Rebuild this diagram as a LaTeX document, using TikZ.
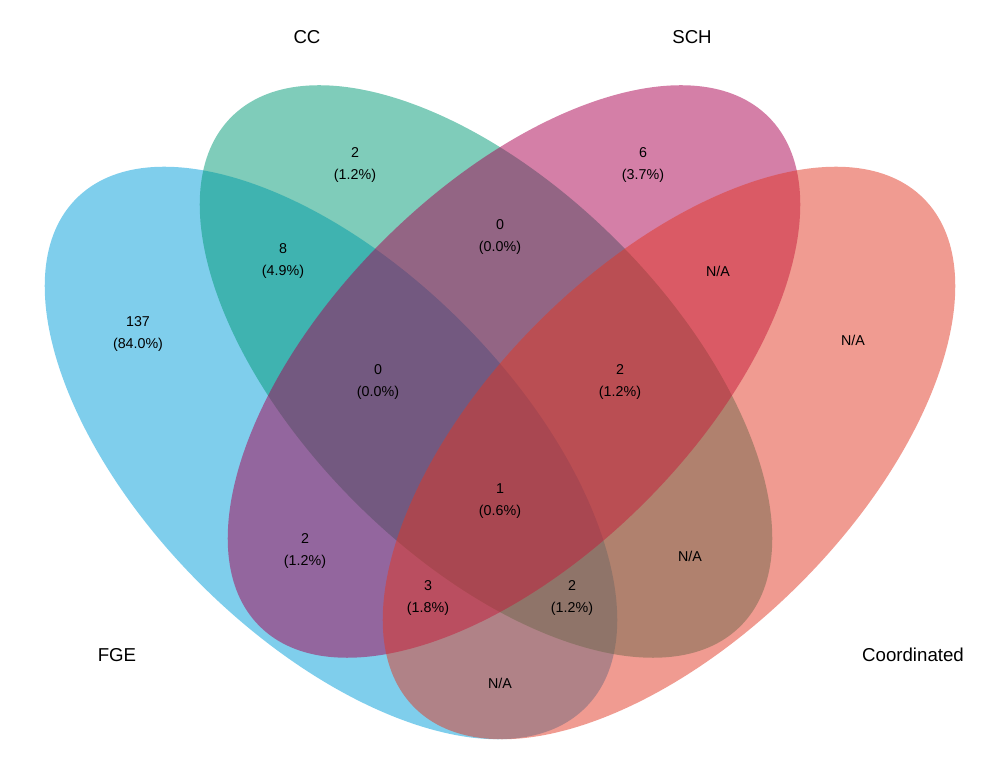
\documentclass[tikz,border=0pt]{standalone}
\usepackage{fontspec}
\setmainfont{Liberation Sans}
\usepackage{xcolor}
\usetikzlibrary{positioning}

\definecolor{fgecol}{RGB}{0,158,218}
\definecolor{cccol}{RGB}{0,153,117}
\definecolor{schcol}{RGB}{169,0,80}
\definecolor{coocol}{RGB}{225,55,35}

\begin{document}
\begin{tikzpicture}[x=0.75pt,y=0.75pt,
	set/.style={fill opacity=0.5},
	cnt/.style={align=center,font=\fontsize{10.7}{16.5}\selectfont},
	lbl/.style={font=\fontsize{14}{16}\selectfont}]
	\useasboundingbox (0,0) rectangle (1000,781);
	% the four sets
	\fill[set,fill=fgecol,rotate around={-45:(331,328)}] (331,328) ellipse (360 and 185);
	\fill[set,fill=cccol,rotate around={-45:(486,409.5)}] (486,409.5) ellipse (360 and 185);
	\fill[set,fill=schcol,rotate around={45:(514,409.5)}] (514,409.5) ellipse (360 and 185);
	\fill[set,fill=coocol,rotate around={45:(669,328)}] (669,328) ellipse (360 and 185);

	\node[lbl] (nfge) at (117,126) {FGE};
	\node[lbl] (ncc) at (307,744) {CC};
	\node[lbl] (nsch) at (692,744) {SCH};
	\node[lbl] (ncoo) at (913,126) {Coordinated};

	\node[cnt] (a) at (138,447) {137\\(84.0\%)};
	\node[cnt] (b) at (355,616) {2\\(1.2\%)};
	\node[cnt] (c) at (643,616) {6\\(3.7\%)};
	\node[cnt] (d) at (853,441) {N/A};
	\node[cnt] (ab) at (283,520) {8\\(4.9\%)};
	\node[cnt] (bc) at (500,544) {0\\(0.0\%)};
	\node[cnt] (cd) at (718,510) {N/A};
	\node[cnt] (abc) at (378,399) {0\\(0.0\%)};
	\node[cnt] (bcd) at (620,399) {2\\(1.2\%)};
	\node[cnt] (abcd) at (500,280) {1\\(0.6\%)};
	\node[cnt] (ac) at (305,230) {2\\(1.2\%)};
	\node[cnt] (bd) at (690,225) {N/A};
	\node[cnt] (acd) at (428,183) {3\\(1.8\%)};
	\node[cnt] (abd) at (572,183) {2\\(1.2\%)};
	\node[cnt] (ad) at (500,98) {N/A};
\end{tikzpicture}
\end{document}
